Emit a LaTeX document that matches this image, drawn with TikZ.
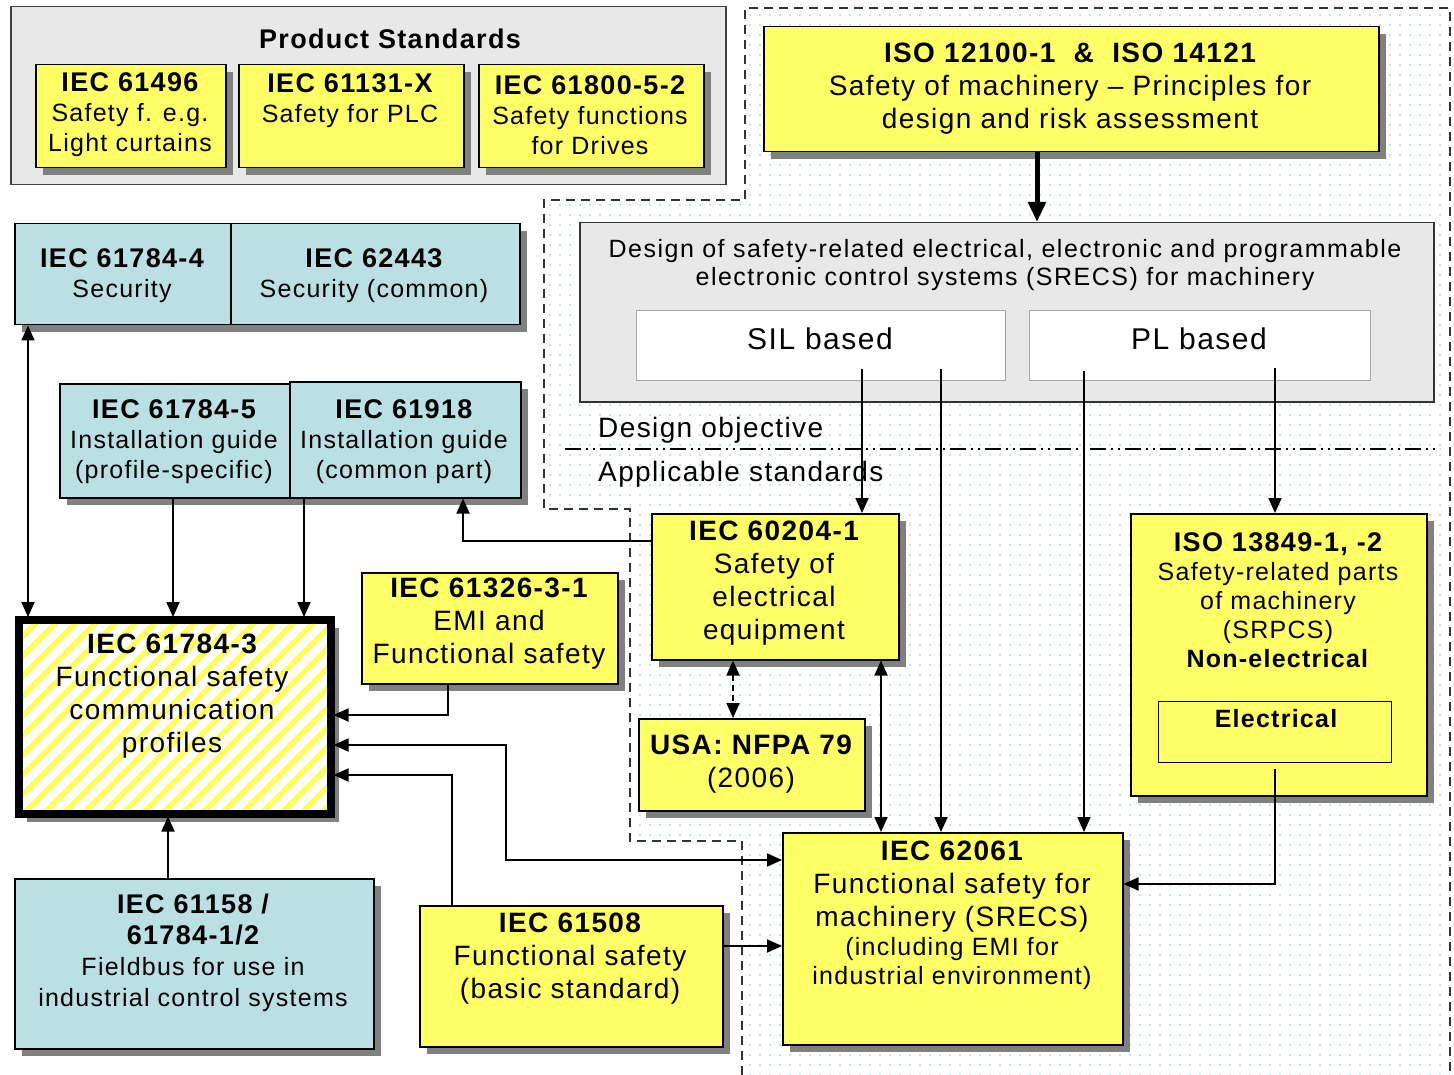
\documentclass[tikz,border=0pt]{standalone}
\usepackage{fontspec}
\setmainfont{Liberation Sans}[LetterSpace=5]
\usetikzlibrary{arrows.meta,shadows,patterns.meta,calc}
\definecolor{yel}{HTML}{FFFF66}
\definecolor{teal1}{HTML}{BAE0E3}
\definecolor{grey1}{HTML}{E8E8E8}
\definecolor{shadc}{HTML}{808080}
\definecolor{dotc}{HTML}{B5DCE4}
\definecolor{stripe}{HTML}{FFFF55}
\newcommand\fsA{\fontsize{25pt}{30pt}\selectfont}
\newcommand\fsB{\fontsize{28pt}{33pt}\selectfont}
\newcommand\fsT{\fontsize{27pt}{30pt}\selectfont\bfseries}
\newcommand\fsC{\fontsize{30pt}{34pt}\selectfont}
\begin{document}
\begin{tikzpicture}[x=1pt,y=-1pt,
  box/.style={draw=black, line width=1.5pt, anchor=north west, inner sep=0pt},
  dshadow/.style={drop shadow={shadow xshift=7pt, shadow yshift=-7pt, opacity=1, fill=shadc}},
  ybox/.style={box, fill=yel, dshadow},
  tbox/.style={box, fill=teal1, dshadow},
  txt/.style={align=center, inner sep=0pt, font=\fsA, yshift=-3pt},
  tip/.tip={Triangle[length=15pt,width=13pt]},
  arr/.style={line width=1.8pt, -tip},
  darr/.style={line width=1.8pt, tip-tip},
  region/.style={line width=1.3pt, draw=black!80, dash pattern=on 9pt off 6pt},
]
\useasboundingbox (0,0) rectangle (1454,1075);
\fill[white] (0,0) rectangle (1454,1075);

% dotted region
\fill[pattern={Dots[radius=1.1pt,distance=10pt]}, pattern color=dotc]
  (745,8) -- (1450,8) -- (1450,1075) -- (742,1075) -- (742,841) -- (630,841)
  -- (630,509) -- (544,509) -- (544,200) -- (745,200) -- cycle;
\draw[region] (742,1075) -- (742,841) -- (630,841) -- (630,509) -- (544,509)
  -- (544,200) -- (745,200) -- (745,8) -- (1450,8) -- (1450,1075);

% lane coordinates
\foreach \x in {28,168,173,304,448,452,463,506,733,862,881,941,1037,1084,1275}
  \coordinate (X\x) at (\x,0);
\foreach \y in {541,715,745,775,860,884,946}
  \coordinate (Y\y) at (0,\y);

% Product standards
\node[box, draw=black!75, fill=grey1, minimum width=715pt, minimum height=178pt] (ps) at (10,6) {};
\node[txt, font=\fsT] (pst) at (390,36) {Product Standards};
\node[ybox, minimum width=190pt, minimum height=103pt] (p1) at (35,64) {};
\node[txt] (p1t) at (130,112) {{\fsT IEC 61496}\\Safety f. e.g.\\Light curtains};
\node[ybox, minimum width=225pt, minimum height=103pt] (p2) at (238,64) {};
\node[txt] (p2t) at (350,98) {{\fsT IEC 61131-X}\\Safety for PLC};
\node[ybox, minimum width=225pt, minimum height=103pt] (p3) at (478,64) {};
\node[txt] (p3t) at (590,112) {{\fsT IEC 61800-5-2}\\Safety functions\\for Drives};

% ISO 12100
\node[ybox, minimum width=615pt, minimum height=125pt] (iso) at (763,26) {};
\node[txt, font=\fsB] (isot) at (1070,86) {{\bfseries ISO 12100-1\ \ \&\ \ ISO 14121}\\Safety of machinery \textendash{} Principles for\\design and risk assessment};

% Design box
\node[box, draw=black!80, fill=grey1, minimum width=854pt, minimum height=179pt] (des) at (579,222) {};
\node[txt, font=\fontsize{25pt}{28pt}\selectfont\addfontfeatures{LetterSpace=6}] (dest) at (1005,262) {Design of safety-related electrical, electronic and programmable\\electronic control systems (SRECS) for machinery};
\node[box, line width=1.3pt, draw=black!35, fill=white, minimum width=369pt, minimum height=70pt] (sil) at (636,310) {};
\node[txt, font=\fsC, yshift=2pt] (silt) at (820,338) {SIL based};
\node[box, line width=1.3pt, draw=black!35, fill=white, minimum width=341pt, minimum height=70pt] (pl) at (1029,310) {};
\node[txt, font=\fsC, yshift=2pt] (plt) at (1199,338) {PL based};
\node[anchor=west, inner sep=0pt, font=\fsB] (dobj) at (598,430) {Design objective};
\node[anchor=west, inner sep=0pt, font=\fsB] (appl) at (598,474) {Applicable standards};
\draw[line width=1.3pt, dash pattern=on 16pt off 5pt on 2pt off 5pt on 2pt off 5pt] (565,449) -- (1440,449);

% teal boxes
\node[tbox, minimum width=216pt, minimum height=101pt] (sec4) at (14,223) {};
\node[tbox, minimum width=289pt, minimum height=101pt] (sec62443) at (230,223) {};
\node[txt] (sec4t) at (122,273) {{\fsT IEC 61784-4}\\Security};
\node[txt] (sec62443t) at (374,273) {{\fsT IEC 62443}\\Security (common)};
\node[tbox, minimum width=230pt, minimum height=114pt] (i5) at (59,383) {};
\node[tbox, minimum width=231pt, minimum height=116pt] (i18) at (289,381) {};
\node[txt] (i5t) at (174,439) {{\fsT IEC 61784-5}\\Installation guide\\(profile-specific)};
\node[txt] (i18t) at (404,439) {{\fsT IEC 61918}\\Installation guide\\(common part)};
\node[tbox, minimum width=359pt, minimum height=170pt] (fb) at (14,878) {};
\node[txt, font=\fontsize{25pt}{31pt}\selectfont] (fbt) at (193,950) {{\fsT IEC 61158 /}\\{\fsT 61784-1/2}\\Fieldbus for use in\\industrial control systems};

% IEC 61784-3 hatched
\node[draw=black, line width=8pt, inner sep=0pt, anchor=north west,
      minimum width=312pt, minimum height=194pt,
      drop shadow={shadow xshift=8pt, shadow yshift=-8pt, opacity=1, fill=shadc},
      preaction={fill=white},
      pattern={Lines[angle=45,distance=14pt,line width=5.5pt]}, pattern color=stripe] (fs) at (16,617) {};
\node[txt, font=\fsB] (fst) at (172,693) {{\bfseries IEC 61784-3}\\Functional safety\\communication\\profiles};

% yellow boxes
\node[ybox, minimum width=256pt, minimum height=111pt] (emi) at (361,572) {};
\node[txt, font=\fsB] (emit) at (489,621) {{\bfseries IEC 61326-3-1}\\EMI and\\Functional safety};
\node[ybox, minimum width=247pt, minimum height=146pt] (n60204) at (651,513) {};
\node[txt, font=\fsB] (n60204t) at (774,580) {{\bfseries IEC 60204-1}\\Safety of\\electrical\\equipment};
\node[ybox, minimum width=226pt, minimum height=92pt] (nfpa) at (638,718) {};
\node[txt, font=\fsB] (nfpat) at (751,761) {{\bfseries USA: NFPA 79}\\(2006)};
\node[ybox, minimum width=296pt, minimum height=282pt] (n13849) at (1130,513) {};
\node[txt, font=\fontsize{25pt}{29pt}\selectfont, yshift=2pt] (n13849t) at (1278,599) {{\fsT ISO 13849-1, -2}\\Safety-related parts\\of machinery\\(SRPCS)\\\textbf{Non-electrical}};
\node[box, line width=1.3pt, minimum width=233pt, minimum height=61pt] (elec) at (1158,701) {};
\node[txt, font=\fsA\bfseries, yshift=2pt] (elect) at (1276,718) {Electrical};
\node[ybox, minimum width=340pt, minimum height=212pt] (n62061) at (782,832) {};
\node[txt, font=\fontsize{25pt}{29pt}\selectfont] (n62061t) at (952,912) {{\fsB\bfseries IEC 62061}\\[4pt]{\fsB Functional safety for}\\[4pt]{\fsB machinery (SRECS)}\\(including EMI for\\industrial environment)};
\node[ybox, minimum width=303pt, minimum height=141pt] (b61508) at (419,905) {};
\node[txt, font=\fsB] (b61508t) at (570,956) {{\bfseries IEC 61508}\\Functional safety\\(basic standard)};

% connectors
\draw[line width=5pt, -{Triangle[length=20pt,width=17pt]}] (iso.south -| X1037) -- (des.north -| X1037);
\draw[darr] (sec4.south -| X28) -- (fs.north -| X28);
\draw[arr] (i5.south -| X173) -- (fs.north -| X173);
\draw[arr] (i18.south -| X304) -- (fs.north -| X304);
\draw[arr] (fb.north -| X168) -- (fs.south -| X168);
\draw[arr] (emi.south -| X448) |- (fs.east |- Y715);
\draw[darr] (fs.east |- Y745) -| (X506 |- Y860) -- (n62061.west |- Y860);
\draw[arr] (b61508.north -| X452) |- (fs.east |- Y775);
\draw[arr] (n60204.west |- Y541) -| (i18.south -| X463);
\draw[darr, dash pattern=on 6pt off 4pt] (n60204.south -| X733) -- (nfpa.north -| X733);
\draw[darr] (n60204.south -| X881) -- (n62061.north -| X881);
\draw[arr] (sil.south -| X862) ++(0,-12) -- (n60204.north -| X862);
\draw[arr] (sil.south -| X941) ++(0,-12) -- (n62061.north -| X941);
\draw[arr] (pl.south -| X1084) ++(0,-10) -- (n62061.north -| X1084);
\draw[arr] (pl.south -| X1275) ++(0,-13) -- (n13849.north -| X1275);
\draw[arr] (elec.south -| X1275) ++(0,6) |- (n62061.east |- Y884);
\draw[arr] (b61508.east |- Y946) -- (n62061.west |- Y946);
\end{tikzpicture}
\end{document}
